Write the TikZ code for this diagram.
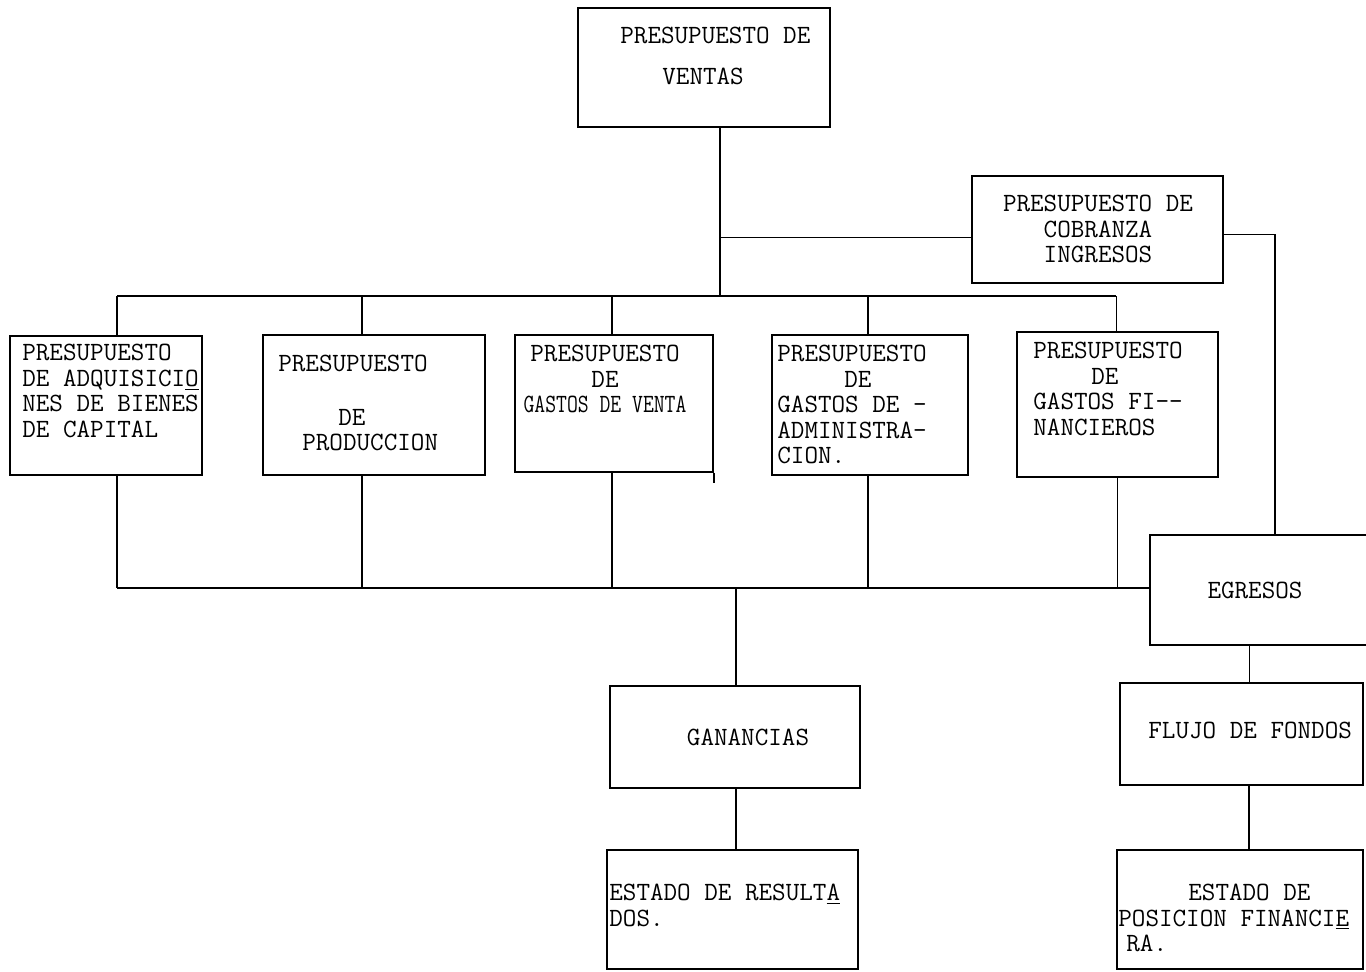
\documentclass[tikz,border=0pt]{standalone}
\usepackage{graphicx}
\usepackage{tikz}
\usetikzlibrary{positioning, fit}

\newlength\pxl
\setlength\pxl{0.02cm}

\begin{document}
\begin{tikzpicture}[
    x=0.02cm, y=-0.02cm,
    box/.style={draw, line width=0.9pt, inner sep=0pt},
    txt/.style={font=\fontsize{15}{14.5}\selectfont\ttfamily, inner sep=0pt},
    wire/.style={draw, line width=0.9pt}
]
    \useasboundingbox (0,0) rectangle (1366,972);

    % boxes
    \node[box, fit={(578,8) (830,127)}] (ventas) {};
    \node[box, fit={(972,176) (1223,283)}] (cobranza) {};
    \node[box, fit={(10,336) (202,475)}] (adq) {};
    \node[box, fit={(263,335) (485,475)}] (prod) {};
    \node[box, fit={(515,335) (713,472)}] (gventa) {};
    \node[box, fit={(772,335) (968,475)}] (gadmin) {};
    \node[box, fit={(1017,332) (1218,477)}] (gfin) {};
    \node[box, fit={(1150,535) (1400,645)}] (egresos) {};
    \node[box, fit={(610,686) (860,788)}] (ganancias) {};
    \node[box, fit={(1120,683) (1363,785)}] (flujo) {};
    \node[box, fit={(607,850) (858,969)}] (resultados) {};
    \node[box, fit={(1117,850) (1363,969)}] (posicion) {};

    % texts
    \node[txt, anchor=north west, align=left] (ventas-t) at (620,27)
        {PRESUPUESTO DE\\[15\pxl]\hspace*{42\pxl}VENTAS};
    \node[txt, anchor=north, align=center] (cobranza-t) at (1098,195)
        {PRESUPUESTO DE\\COBRANZA\\INGRESOS};
    \node[txt, anchor=north west, align=left] (adq-t) at (22,344)
        {PRESUPUESTO\\DE ADQUISICI\underline{O}\\NES DE BIENES\\DE CAPITAL};
    \node[txt, anchor=north west, align=left] (prod-t) at (278,355)
        {PRESUPUESTO\\[28\pxl]\hspace*{60\pxl}DE\\\hspace*{24\pxl}PRODUCCION};
    \node[txt, anchor=north, align=center] (gventa-t) at (605,345)
        {PRESUPUESTO\\DE\\\scalebox{0.8}[1]{GASTOS DE VENTA}};
    \node[txt, anchor=north west, align=left] (gadmin-t) at (777,345)
        {PRESUPUESTO\\\hspace*{67\pxl}DE\\GASTOS DE -\\ADMINISTRA-\\CION.};
    \node[txt, anchor=north west, align=left] (gfin-t) at (1033,342)
        {PRESUPUESTO\\\hspace*{58\pxl}DE\\GASTOS FI--\\NANCIEROS};
    \node[txt] (egresos-t) at (1255,590) {EGRESOS};
    \node[txt, anchor=west] (flujo-t) at (1148,730) {FLUJO DE FONDOS};
    \node[txt] (ganancias-t) at (748,737) {GANANCIAS};
    \node[txt, anchor=north west, align=left] (resultados-t) at (609,884)
        {ESTADO DE RESULT\underline{A}\\DOS.};
    \node[txt, anchor=north west, align=left] (posicion-t) at (1118,884)
        {\hspace*{70\pxl}ESTADO DE\\POSICION FINANCI\underline{E}\\\hspace*{8\pxl}RA.};

    % connectors
    \coordinate (hub) at (720,296);
    \coordinate (busL) at (117,296);
    \coordinate (busR) at (1116,296);
    \coordinate (lbusL) at (117,588);
    \coordinate (lowhub) at (736,588);

    \draw[wire] (hub |- ventas.south) -- (hub);
    \draw[wire] ([yshift=-8\pxl]hub |- cobranza.west) -- ([yshift=-8\pxl]cobranza.west);
    \draw[wire] ([yshift=-5\pxl]cobranza.east) -| (egresos.north);
    \draw[wire] (busL) -- (busR);
    \foreach \n/\dx in {adq/11, prod/-12, gventa/-2, gadmin/-2, gfin/-1}
        \draw[wire] ([xshift=\dx\pxl]\n.north) -- ([xshift=\dx\pxl]\n.north |- busL);
    \draw[wire] (lbusL) -- (lbusL -| egresos.west);
    \foreach \n/\dx in {adq/11, prod/-12, gventa/-2, gadmin/-2, gfin/0}
        \draw[wire] ([xshift=\dx\pxl]\n.south) -- ([xshift=\dx\pxl]\n.south |- lbusL);
    \draw[wire] (gventa.south east) -- ++(0,10);
    \draw[wire] (lowhub) -- (lowhub |- ganancias.north);
    \draw[wire] (lowhub |- ganancias.south) -- (lowhub |- resultados.north);
    \draw[wire] ([xshift=8\pxl]flujo.north) -- ([xshift=8\pxl]flujo.north |- egresos.south);
    \draw[wire] ([xshift=9\pxl]posicion.north) -- ([xshift=9\pxl]posicion.north |- flujo.south);
\end{tikzpicture}
\end{document}
